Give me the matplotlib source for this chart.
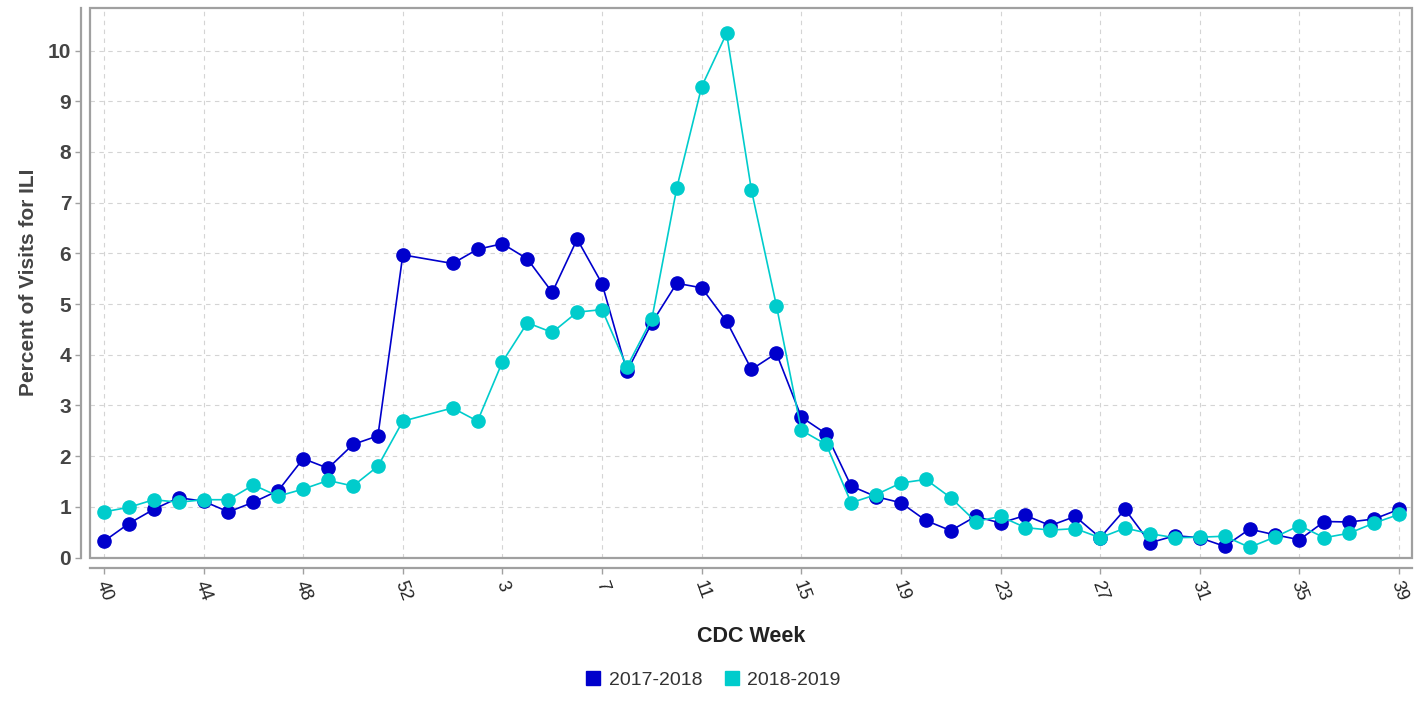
import matplotlib
matplotlib.use("Agg")
import matplotlib.pyplot as plt
from matplotlib.patches import Rectangle
from matplotlib.lines import Line2D

plt.rcParams['font.family'] = ['Liberation Sans', 'DejaVu Sans']

# category axis: CDC weeks 40..53, 1..39 (week 53 has no data in these seasons)
axis_weeks = list(range(40, 54)) + list(range(1, 40))
season_weeks = list(range(40, 53)) + list(range(1, 40))

ili_2017_2018 = [0.32, 0.67, 0.95, 1.18, 1.11, 0.90, 1.09, 1.32, 1.95, 1.76, 2.23, 2.40, 5.97,
                 5.80, 6.08, 6.19, 5.89, 5.23, 6.28, 5.40, 3.67, 4.63, 5.41, 5.32, 4.66, 3.71,
                 4.03, 2.77, 2.44, 1.41, 1.20, 1.08, 0.73, 0.53, 0.81, 0.68, 0.83, 0.63, 0.81,
                 0.39, 0.95, 0.29, 0.43, 0.39, 0.22, 0.56, 0.45, 0.35, 0.71, 0.70, 0.76, 0.95]
ili_2018_2019 = [0.90, 0.99, 1.14, 1.09, 1.14, 1.14, 1.43, 1.21, 1.35, 1.52, 1.41, 1.80, 2.69,
                 2.95, 2.69, 3.86, 4.63, 4.44, 4.84, 4.89, 3.76, 4.71, 7.29, 9.29, 10.34, 7.24,
                 4.97, 2.51, 2.23, 1.08, 1.24, 1.47, 1.54, 1.18, 0.71, 0.81, 0.59, 0.54, 0.57,
                 0.39, 0.58, 0.47, 0.39, 0.40, 0.42, 0.20, 0.40, 0.63, 0.39, 0.48, 0.68, 0.85]
series_labels = ['2017-2018', '2018-2019']
series_colors = ['#0000cc', '#00cccc']

xpos = [axis_weeks.index(w) for w in season_weeks]

fig = plt.figure(figsize=(14.24, 7.06), dpi=100)
ax = fig.add_axes([90 / 1424, 1 - 557.5 / 706, 1322 / 1424, 549.5 / 706])

# spines first: set_position resets tick properties
for s in ['top', 'right']:
    ax.spines[s].set_visible(False)
ax.spines['left'].set_position(('outward', 6.5))
ax.spines['bottom'].set_position(('outward', 7.5))
for s in ['left', 'bottom']:
    ax.spines[s].set_color('#a0a0a0')
    ax.spines[s].set_linewidth(1.6)

for vals, col in zip([ili_2017_2018, ili_2018_2019], series_colors):
    ax.plot(xpos, vals, color=col, lw=1.2, marker='o', ms=9.5,
            markerfacecolor=col, markeredgecolor=col, zorder=3, clip_on=False)

ax.set_xlim(-0.56, len(axis_weeks) - 1 + 0.52)
ax.set_ylim(0, 10.84)

ax.tick_params(axis='both', color='#a0a0a0', width=1, length=4)
ax.tick_params(axis='x', pad=4)
ax.tick_params(axis='y', pad=3)

tick_idx = list(range(0, len(axis_weeks), 4))
ax.set_xticks(tick_idx)
ax.set_xticklabels([str(axis_weeks[i]) for i in tick_idx], rotation=-70,
                   ha='center', va='top', fontsize=13, color='#222222')
ax.set_yticks(range(0, 11))
ax.set_yticklabels([str(v) for v in range(0, 11)], fontsize=15, fontweight='bold',
                   color='#444444')

ax.grid(True, color='#d4d4d4', ls=(0, (4, 4)), lw=0.8)
ax.set_axisbelow(True)

# plot area border
ax.add_patch(Rectangle((0, 0), 1, 1, transform=ax.transAxes, fill=False,
                       ec='#a0a0a0', lw=1.6, clip_on=False, zorder=4))

ax.set_ylabel('Percent of Visits for ILI', fontsize=15, fontweight='bold',
              color='#444444', labelpad=7)
ax.set_xlabel('CDC Week', fontsize=15.5, fontweight='bold', color='#222222', labelpad=16)

handles = [Line2D([], [], ls='none', marker='s', ms=10, color=c) for c in series_colors]
fig.legend(handles, series_labels, loc='center', bbox_to_anchor=(0.5, 26 / 706),
           ncol=2, frameon=False, fontsize=14, handletextpad=0.3, columnspacing=1.0,
           handlelength=1.0, labelcolor='#333333')

fig.savefig('out.png', dpi=100)
